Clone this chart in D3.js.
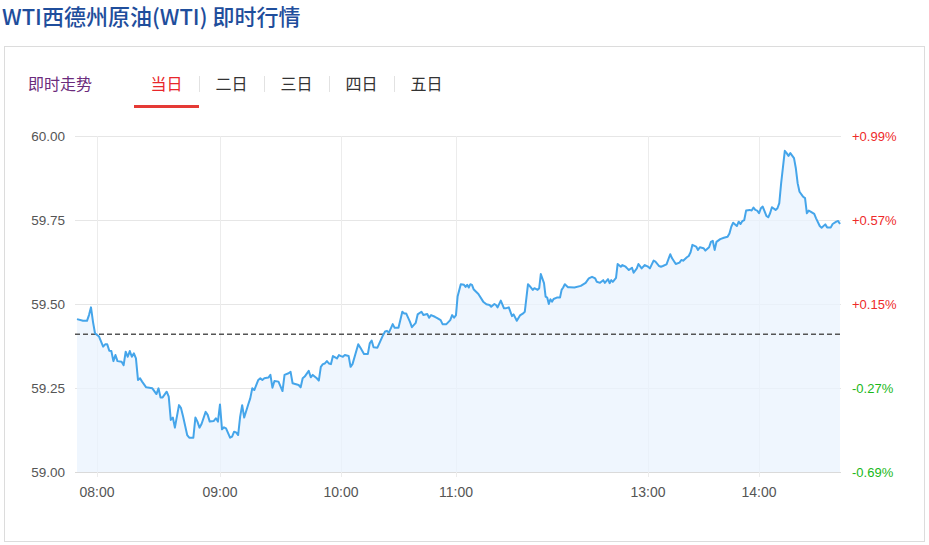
<!DOCTYPE html>
<html>
<head>
<meta charset="utf-8">
<script src="https://cdn.jsdelivr.net/npm/d3@7"></script>
<style>
html,body{margin:0;padding:0;background:#fff;}
svg{display:block;}
</style>
</head>
<body>
<svg id="chart" width="929" height="545"></svg>
<script>
// ---------------- DATA ----------------
const title = "WTI西德州原油(WTI) 即时行情";
const modeLabel = "即时走势";
const tabs = ["当日", "二日", "三日", "四日", "五日"];
const prevClose = 59.41;
const yTicks = [59.00, 59.25, 59.50, 59.75, 60.00];
const xTickLabels = ["08:00", "09:00", "10:00", "11:00", "13:00", "14:00"];
const sessionStart = "07:50";
const sessionEnd = "14:44";

const times = [
"07:50","07:53","07:55","07:56","07:57","07:58","07:59","08:01","08:03","08:04",
"08:05","08:06","08:07","08:08","08:09","08:10","08:12","08:13","08:14","08:15",
"08:16","08:17","08:18","08:19","08:20","08:21","08:22","08:24","08:27","08:29",
"08:30","08:31","08:32","08:34","08:35","08:36","08:37","08:38","08:40","08:41",
"08:42","08:44","08:45","08:47","08:48","08:49","08:50","08:51","08:53","08:54",
"08:55","08:57","08:58","08:59","09:00","09:01","09:02","09:03","09:05","09:06",
"09:07","09:08","09:09","09:10","09:11","09:12","09:14","09:15","09:16","09:17",
"09:19","09:20","09:21","09:22","09:24","09:25","09:26","09:27","09:29","09:31",
"09:32","09:34","09:35","09:36","09:39","09:40","09:41","09:42","09:44","09:45",
"09:46","09:48","09:49","09:50","09:51","09:52","09:53","09:54","09:55","09:56",
"09:58","09:59","10:00","10:01","10:02","10:04","10:05","10:06","10:09","10:10",
"10:12","10:14","10:15","10:16","10:17","10:19","10:20","10:22","10:23","10:24",
"10:25","10:27","10:28","10:30","10:32","10:33","10:34","10:36","10:37","10:39",
"10:40","10:42","10:43","10:45","10:46","10:47","10:49","10:50","10:52","10:53",
"10:55","10:57","10:58","10:59","11:00","11:01","11:03","11:05","11:06","11:07",
"11:08","11:09","11:10","11:11","11:14","11:17","11:19","11:21","11:22","11:24",
"11:25","11:26","11:28","11:30","11:31","11:33","11:35","11:36","11:38","11:40",
"11:42","11:43","11:45","11:46","11:48","11:49","11:51","11:52","11:53","11:55",
"11:56","11:57","11:58","11:59","12:00","12:01","12:03","12:05","12:06","12:07",
"12:08","12:10","12:11","12:14","12:18","12:21","12:23","12:25","12:27","12:28",
"12:30","12:32","12:33","12:35","12:36","12:37","12:38","12:40","12:41","12:43",
"12:44","12:46","12:47","12:48","12:50","12:51","12:53","12:54","12:56","12:58",
"13:00","13:01","13:03","13:04","13:06","13:07","13:08","13:10","13:12","13:13",
"13:15","13:17","13:18","13:19","13:21","13:22","13:23","13:24","13:26","13:27",
"13:28","13:30","13:31","13:33","13:34","13:35","13:36","13:37","13:39","13:41",
"13:43","13:44","13:45","13:46","13:48","13:49","13:50","13:51","13:52","13:53",
"13:55","13:56","13:57","13:58","13:59","14:00","14:01","14:02","14:04","14:05",
"14:06","14:07","14:09","14:10","14:11","14:12","14:14","14:15","14:16","14:17",
"14:19","14:20","14:21","14:22","14:24","14:25","14:26","14:27","14:28","14:30",
"14:31","14:33","14:34","14:36","14:37","14:39","14:40","14:42","14:43","14:44"
];

const prices = [
59.455,59.450,59.450,59.467,59.490,59.447,59.413,59.403,59.373,59.380,
59.380,59.361,59.360,59.330,59.348,59.330,59.328,59.318,59.358,59.343,
59.360,59.343,59.353,59.338,59.274,59.279,59.269,59.252,59.249,59.232,
59.249,59.222,59.222,59.239,59.224,59.155,59.162,59.132,59.199,59.190,
59.165,59.110,59.102,59.102,59.162,59.150,59.132,59.143,59.179,59.170,
59.150,59.152,59.160,59.150,59.201,59.127,59.133,59.130,59.102,59.105,
59.120,59.118,59.110,59.165,59.199,59.162,59.201,59.219,59.249,59.244,
59.274,59.279,59.274,59.279,59.281,59.289,59.251,59.271,59.269,59.241,
59.289,59.294,59.298,59.264,59.259,59.252,59.279,59.284,59.301,59.282,
59.289,59.279,59.272,59.313,59.321,59.323,59.330,59.323,59.321,59.345,
59.338,59.348,59.345,59.343,59.348,59.345,59.313,59.321,59.380,59.371,
59.351,59.351,59.383,59.391,59.371,59.370,59.383,59.408,59.418,59.420,
59.415,59.440,59.429,59.429,59.477,59.472,59.472,59.447,59.431,59.444,
59.469,59.477,59.467,59.470,59.459,59.467,59.462,59.459,59.452,59.440,
59.440,59.452,59.467,59.459,59.467,59.522,59.559,59.557,59.551,59.557,
59.549,59.559,59.557,59.544,59.530,59.507,59.499,59.497,59.492,59.500,
59.497,59.490,59.510,59.487,59.487,59.490,59.464,59.469,59.450,59.466,
59.472,59.477,59.559,59.554,59.542,59.547,59.542,59.547,59.589,59.562,
59.522,59.519,59.500,59.514,59.507,59.515,59.519,59.519,59.542,59.549,
59.559,59.550,59.550,59.549,59.554,59.563,59.576,59.581,59.576,59.566,
59.563,59.571,59.563,59.574,59.562,59.571,59.566,59.578,59.619,59.611,
59.616,59.611,59.606,59.601,59.608,59.593,59.606,59.619,59.606,59.616,
59.611,59.606,59.629,59.626,59.613,59.611,59.613,59.618,59.648,59.636,
59.619,59.623,59.631,59.629,59.639,59.643,59.654,59.676,59.671,59.661,
59.669,59.666,59.659,59.669,59.685,59.688,59.661,59.685,59.693,59.697,
59.700,59.710,59.730,59.742,59.732,59.745,59.738,59.747,59.750,59.778,
59.780,59.778,59.787,59.780,59.778,59.770,59.785,59.790,59.762,59.758,
59.770,59.788,59.780,59.785,59.800,59.859,59.956,59.949,59.941,59.949,
59.934,59.904,59.859,59.834,59.819,59.815,59.770,59.778,59.775,59.768,
59.755,59.732,59.727,59.737,59.728,59.728,59.738,59.745,59.747,59.738
];

// ---------------- LAYOUT ----------------
const svg = d3.select("#chart");
const plot = {left: 77, right: 840, top: 136, bottom: 472};
const cjk = "'Noto Sans CJK SC','Noto Sans',sans-serif";
const latin = "'Liberation Sans',Arial,'DejaVu Sans',sans-serif";

const toMin = s => { const [h, m] = s.split(":").map(Number); return h * 60 + m; };

// panel box
svg.append("rect")
  .attr("x", 4.5).attr("y", 46.5).attr("width", 920).attr("height", 495)
  .attr("fill", "#fff").attr("stroke", "#dcdcdc");

// title
svg.append("text")
  .attr("x", 2).attr("y", 25)
  .attr("font-family", cjk).attr("font-size", 22).attr("font-weight", 500)
  .attr("fill", "#1f4e9c")
  .text(title);

// mode label
svg.append("text")
  .attr("x", 28).attr("y", 83).attr("dominant-baseline", "central")
  .attr("font-family", cjk).attr("font-size", 16)
  .attr("fill", "#6b2b7c")
  .text(modeLabel);

// tabs
const tabX = d3.scaleBand().domain(tabs).range([134, 459]).paddingInner(0);
tabs.forEach((t, i) => {
  const cx = tabX(t) + tabX.bandwidth() / 2;
  svg.append("text")
    .attr("x", cx).attr("y", 83).attr("dominant-baseline", "central")
    .attr("text-anchor", "middle")
    .attr("font-family", cjk).attr("font-size", 16)
    .attr("fill", i === 0 ? "#e8262b" : "#333")
    .text(t);
  if (i > 0) {
    svg.append("line")
      .attr("x1", tabX(t) + 0.5).attr("x2", tabX(t) + 0.5)
      .attr("y1", 76).attr("y2", 92)
      .attr("stroke", "#e2e2e2");
  }
});
svg.append("rect")
  .attr("x", tabX(tabs[0])).attr("y", 105)
  .attr("width", tabX.bandwidth()).attr("height", 3)
  .attr("fill", "#e53a35");

// ---------------- SCALES ----------------
// x axis: trading-time positions (midday section compressed, as in the source chart)
const xDomain = [sessionStart, ...xTickLabels, sessionEnd].map(toMin);
const pw = plot.right - plot.left;
const xFrac = [0, 0.0262, 0.1874, 0.3460, 0.4967, 0.7484, 0.8939, 1];
const x = d3.scaleLinear().domain(xDomain).range(xFrac.map(f => plot.left + f * pw));
const y = d3.scaleLinear().domain([59, 60]).range([plot.bottom, plot.top]);

const data = times.map((t, i) => ({t: toMin(t), v: prices[i]}));

// horizontal grid
svg.append("g").selectAll("line").data(yTicks).join("line")
  .attr("x1", 75).attr("x2", plot.right + 1)
  .attr("y1", d => Math.round(y(d)) + 0.5).attr("y2", d => Math.round(y(d)) + 0.5)
  .attr("stroke", (d, i) => i === 0 ? "#dadada" : "#e6e6e6");

// vertical grid
svg.append("g").selectAll("line").data(xTickLabels).join("line")
  .attr("x1", d => Math.round(x(toMin(d))) + 0.5).attr("x2", d => Math.round(x(toMin(d))) + 0.5)
  .attr("y1", plot.top).attr("y2", plot.bottom + 5)
  .attr("stroke", "#ececec");

// area + line
const area = d3.area().x(d => x(d.t)).y0(y(59)).y1(d => y(d.v));
const line = d3.line().x(d => x(d.t)).y(d => y(d.v));
svg.append("path").datum(data).attr("d", area)
  .attr("fill", "#e9f3fd").attr("fill-opacity", 0.75);

// previous close dashed line
svg.append("line")
  .attr("x1", 75).attr("x2", plot.right + 1)
  .attr("y1", y(prevClose)).attr("y2", y(prevClose))
  .attr("stroke", "#555").attr("stroke-width", 1.3)
  .attr("stroke-dasharray", "5,3");

svg.append("path").datum(data).attr("d", line)
  .attr("fill", "none").attr("stroke", "#45a5ea").attr("stroke-width", 2)
  .attr("stroke-linejoin", "round");

// left axis labels
svg.append("g").selectAll("text").data(yTicks).join("text")
  .attr("x", 65).attr("y", d => y(d)).attr("dominant-baseline", "central")
  .attr("text-anchor", "end")
  .attr("font-family", latin).attr("font-size", 13.5).attr("fill", "#555")
  .text(d => d3.format(".2f")(d));

// right percent labels
const pct = d => (d / prevClose - 1) * 100;
svg.append("g").selectAll("text").data(yTicks).join("text")
  .attr("x", 852).attr("y", d => y(d)).attr("dominant-baseline", "central")
  .attr("font-family", latin).attr("font-size", 13)
  .attr("fill", d => pct(d) >= 0 ? "#ee2a2a" : "#19b819")
  .text(d => (pct(d) >= 0 ? "+" : "") + pct(d).toFixed(2) + "%");

// x axis labels
svg.append("g").selectAll("text").data(xTickLabels).join("text")
  .attr("x", d => x(toMin(d))).attr("y", 492).attr("dominant-baseline", "central")
  .attr("text-anchor", "middle")
  .attr("font-family", latin).attr("font-size", 14).attr("fill", "#555")
  .text(d => d);
</script>
</body>
</html>
